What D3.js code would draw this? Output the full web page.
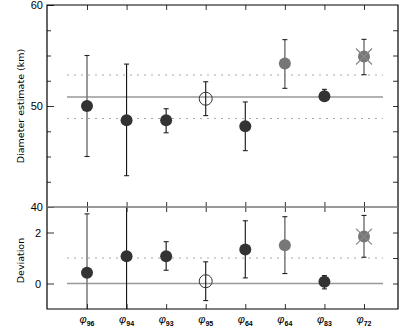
<!DOCTYPE html>
<html>
<head>
<meta charset="utf-8">
<script src="https://cdn.jsdelivr.net/npm/d3@7"></script>
<style>
  body { margin: 0; background: #fff; }
  text { font-family: "Liberation Sans", sans-serif; }
</style>
</head>
<body>
<script>
// data
const labels = ["96", "94", "93", "95", "64", "64", "83", "72"];
const diam = [50.0, 48.6, 48.6, 50.72, 48.0, 54.2, 50.96, 54.9];
const diamLo = [45.0, 43.1, 47.35, 49.05, 45.58, 51.75, 50.5, 53.1];
const diamHi = [55.0, 54.15, 49.73, 52.4, 50.4, 56.57, 51.65, 56.6];
const dev = [0.42, 1.07, 1.07, 0.09, 1.33, 1.5, 0.07, 1.84];
const devLo = [-1.9, -1.3, 0.52, -0.67, 0.22, 0.39, -0.21, 1.03];
const devHi = [2.73, 3.4, 1.64, 0.85, 2.46, 2.62, 0.31, 2.67];
// marker style per point: dark, open, grey, cross
const kind = ["dark", "dark", "dark", "open", "dark", "grey", "dark", "cross"];
const barGrey = [true, false, false, false, false, true, false, true];
const meanDiam = 50.89, bandLo = 48.76, bandHi = 53.07;

const W = 407, H = 330;
const left = 47, right = 398;
const topY0 = 5, midY = 207, botY1 = 309;

const svg = d3.select("body").append("svg").attr("width", W).attr("height", H);

const x = d3.scaleLinear().domain([1, 8]).range([87, 364]);
const idx = d3.range(1, 9);
const yT = d3.scaleLinear().domain([40, 60]).range([midY, topY0]);
const yB = d3.scaleLinear().domain([-1, 3]).range([botY1, midY]);

svg.append("defs").call(d => {
  d.append("clipPath").attr("id", "cT").append("rect")
    .attr("x", left).attr("y", topY0).attr("width", right - left).attr("height", midY - topY0);
  d.append("clipPath").attr("id", "cB").append("rect")
    .attr("x", left).attr("y", midY).attr("width", right - left).attr("height", botY1 - midY);
});

function panel(y, vals, lo, hi, clip, refs) {
  const g = svg.append("g").attr("clip-path", `url(#${clip})`);
  // reference lines
  refs.forEach(r => {
    g.append("line").attr("x1", 67).attr("x2", 383)
      .attr("y1", y(r.v)).attr("y2", y(r.v))
      .attr("stroke", r.dash ? "#aaa" : "#999")
      .attr("stroke-width", r.dash ? 1.2 : 1.5)
      .attr("stroke-dasharray", r.dash ? "2,5" : null);
  });
  // error bars
  const eb = g.selectAll("g.eb").data(idx).join("g")
    .attr("stroke", (d, i) => barGrey[i] ? "#777" : "#111")
    .attr("stroke-width", (d, i) => barGrey[i] ? 1.5 : 1.1);
  eb.append("line").attr("x1", d => x(d)).attr("x2", d => x(d))
    .attr("y1", (d, i) => y(lo[i])).attr("y2", (d, i) => y(hi[i]));
  [lo, hi].forEach(arr => {
    eb.append("line").attr("stroke", "#222").attr("stroke-width", 1.1)
      .attr("x1", d => x(d) - 2.5).attr("x2", d => x(d) + 2.5)
      .attr("y1", (d, i) => y(arr[i])).attr("y2", (d, i) => y(arr[i]));
  });
  // markers
  const m = g.selectAll("g.mk").data(idx).join("g")
    .attr("transform", (d, i) => `translate(${x(d)},${y(vals[i])})`);
  m.append("circle")
    .attr("r", (d, i) => kind[i] === "open" ? 6.5 : 6)
    .attr("fill", (d, i) => kind[i] === "open" ? "none" : (kind[i] === "dark" ? "#333" : "#777"))
    .attr("stroke", (d, i) => kind[i] === "open" ? "#333" : "none");
  m.filter((d, i) => kind[i] === "cross").call(s => {
    s.append("line").attr("x1", -8).attr("y1", -8).attr("x2", 8).attr("y2", 8)
      .attr("stroke", "#888").attr("stroke-width", 1.2);
    s.append("line").attr("x1", -8).attr("y1", 8).attr("x2", 8).attr("y2", -8)
      .attr("stroke", "#888").attr("stroke-width", 1.2);
  });
}

panel(yT, diam, diamLo, diamHi, "cT",
  [{ v: bandHi, dash: true }, { v: bandLo, dash: true }, { v: meanDiam, dash: false }]);
panel(yB, dev, devLo, devHi, "cB",
  [{ v: 1, dash: true }, { v: 0, dash: false }]);

// axes
const tickStyle = g => {
  g.select(".domain").remove();
  g.selectAll(".tick line").attr("stroke", "#333");
  g.selectAll("text").attr("font-size", 11).attr("fill", "#000");
};
svg.append("g").attr("transform", `translate(${left},0)`)
  .call(d3.axisLeft(yT).tickValues([40, 50, 60]).tickSize(-7).tickPadding(4)).call(tickStyle);
svg.append("g").attr("transform", `translate(${left},0)`)
  .call(d3.axisLeft(yT).tickValues([42.5, 45, 47.5, 52.5, 55, 57.5]).tickSize(-4).tickFormat("")).call(tickStyle);
svg.append("g").attr("transform", `translate(${right},0)`)
  .call(d3.axisRight(yT).tickValues([42.5, 45, 47.5, 50, 52.5, 55, 57.5]).tickSize(-5).tickFormat("")).call(tickStyle);
svg.append("g").attr("transform", `translate(${left},0)`)
  .call(d3.axisLeft(yB).tickValues([0, 2]).tickFormat(d3.format("d")).tickSize(-7).tickPadding(6)).call(tickStyle);
svg.append("g").attr("transform", `translate(${right},0)`)
  .call(d3.axisRight(yB).tickValues([0, 1, 2]).tickSize(-5).tickFormat("")).call(tickStyle);

const xa = d3.axisTop(x).tickValues(idx).tickFormat("");
svg.append("g").attr("transform", `translate(0,${topY0})`).call(xa.tickSize(-5)).call(tickStyle);
svg.append("g").attr("transform", `translate(0,${midY})`).call(d3.axisBottom(x).tickValues(idx).tickFormat("").tickSize(-5)).call(tickStyle);
svg.append("g").attr("transform", `translate(0,${midY})`).call(d3.axisTop(x).tickValues(idx).tickFormat("").tickSize(-5)).call(tickStyle);
svg.append("g").attr("transform", `translate(0,${botY1})`).call(d3.axisBottom(x).tickValues(idx).tickFormat("").tickSize(-5)).call(tickStyle);

// frames
svg.append("path").attr("fill", "none").attr("stroke", "#000").attr("stroke-width", 1.2)
  .attr("d", `M${left},${midY}V${topY0}H${right}V${midY}`);
svg.append("path").attr("fill", "none").attr("stroke", "#000").attr("stroke-width", 1.2)
  .attr("d", `M${left},${midY}V${botY1}H${right}V${midY}`);
svg.append("line").attr("x1", left).attr("x2", right).attr("y1", midY).attr("y2", midY)
  .attr("stroke", "#777").attr("stroke-width", 1.6);

// category labels
const lab = svg.append("g").selectAll("text").data(idx).join("text")
  .attr("x", d => x(d)).attr("y", 323).attr("text-anchor", "middle");
lab.append("tspan").attr("font-size", 11).attr("font-style", "italic").text("\u03c6");
lab.append("tspan").attr("font-size", 7).attr("font-weight", "bold").attr("dy", 2.5)
  .text((d, i) => labels[i]);

// axis titles
svg.append("text").attr("transform", `translate(24,${yT(50)}) rotate(-90)`)
  .attr("text-anchor", "middle").attr("font-size", 9.5)
  .style("font-family", "DejaVu Sans").text("Diameter estimate (km)");
svg.append("text").attr("transform", `translate(24,${yB(0.9)}) rotate(-90)`)
  .attr("text-anchor", "middle").attr("font-size", 9.5)
  .style("font-family", "DejaVu Sans").text("Deviation");
</script>
</body>
</html>
